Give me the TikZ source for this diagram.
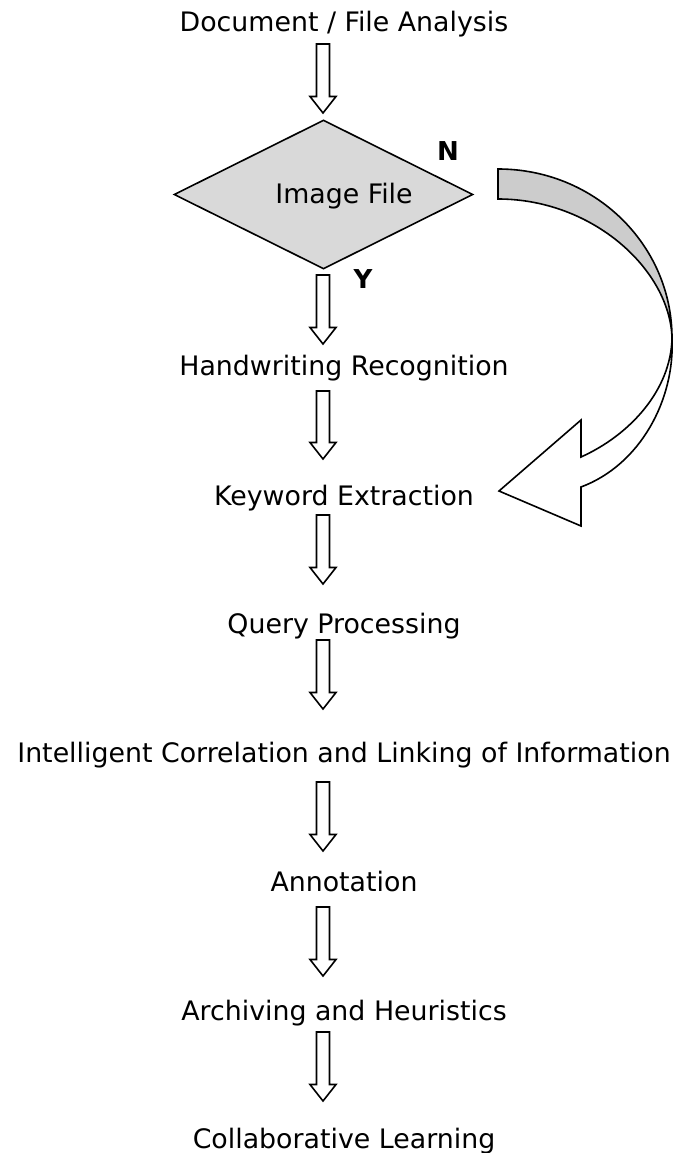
\documentclass[tikz,border=0pt]{standalone}
\usepackage{fontspec}
\setmainfont{DejaVu Sans}
\usetikzlibrary{shapes.geometric}
\tikzset{
  x=1pt,y=-1pt,
  lbl/.style={anchor=base,inner sep=0pt,font=\fontsize{26.8}{30}\selectfont},
  yn/.style={anchor=base,inner sep=0pt,font=\fontsize{26}{30}\selectfont\bfseries},
  barrow/.style={draw=black,line width=1.6pt,fill=white,line join=miter},
  decision/.style={shape=diamond,draw=black,line width=1.6pt,fill=gray!30,inner sep=0pt,minimum width=299pt,minimum height=149pt},
  ribbon/.style={draw=black,line width=1.6pt,line join=miter},
}
\newcommand\barr[3]{%
  \draw[barrow] (#1-6.5,#2) -- (#1+6.5,#2) -- (#1+6.5,#3-16.5) -- (#1+13,#3-16.5)
    -- (#1,#3) -- (#1-13,#3-16.5) -- (#1-6.5,#3-16.5) -- cycle;}
\begin{document}
\begin{tikzpicture}
\useasboundingbox (0,0) rectangle (687,1153);
\node[lbl] (t1) at (344,32) {Document / File Analysis};
\node[decision] (dec) at (323.5,194.5) {};
\node[lbl] (img) at (344,203) {Image File};
\node[yn] (n) at (448,160) {N};
\node[yn] (y) at (363,288) {Y};
\node[lbl] (t2) at (344,375) {Handwriting Recognition};
\node[lbl] (t3) at (344,505) {Keyword Extraction};
\node[lbl] (t4) at (344,633) {Query Processing};
\node[lbl] (t5) at (344,762) {Intelligent Correlation and Linking of Information};
\node[lbl] (t6) at (344,891) {Annotation};
\node[lbl] (t7) at (344,1020) {Archiving and Heuristics};
\node[lbl] (t8) at (344,1148) {Collaborative Learning};
\barr{323}{44}{113}
\barr{323}{275}{344}
\barr{323}{391}{459}
\barr{323}{515}{584}
\barr{323}{640}{709}
\barr{323}{782}{851}
\barr{323}{907}{976}
\barr{323}{1032}{1101}
% curved ribbon arrow (N branch)
\coordinate (rs1) at (498,169);
\coordinate (rs2) at (498,199);
\coordinate (tw) at (672,338);
\coordinate (hl) at (581,457);
\coordinate (hr) at (581,487);
\coordinate (ht) at (581,420);
\coordinate (hb) at (581,526);
\coordinate (tip) at (499,491);
\fill[gray!40] (rs1) .. controls (595,169) and (672,245) .. (tw)
  .. controls (670,270) and (593,199) .. (rs2) -- cycle;
\draw[ribbon] (rs1) .. controls (595,169) and (672,245) .. (tw)
  .. controls (675,400) and (640,465) .. (hr) -- (hb) -- (tip) -- (ht) -- (hl)
  .. controls (630,435) and (671,390) .. (tw)
  .. controls (670,270) and (593,199) .. (rs2) -- cycle;
\end{tikzpicture}
\end{document}
